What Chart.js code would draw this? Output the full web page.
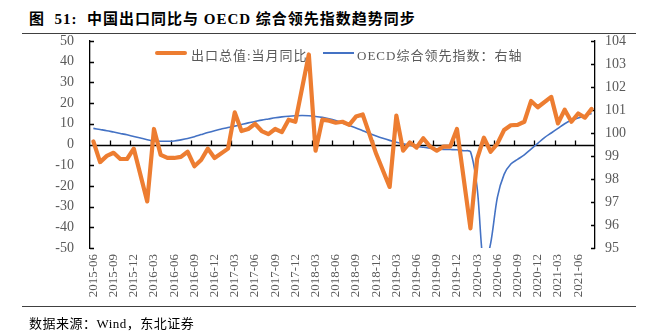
<!DOCTYPE html>
<html>
<head>
<meta charset="utf-8">
<script src="https://cdn.jsdelivr.net/npm/chart.js@4.4.0/dist/chart.umd.min.js"></script>
<style>
  body { margin: 0; width: 659px; height: 333px; background: #fff; position: relative; overflow: hidden; }
  #chart { position: absolute; left: 0; top: 0; }
  .title { position: absolute; left: 29px; top: 7px; font-family: "Liberation Serif", "Noto Sans CJK SC", serif; font-size: 15px; font-weight: bold; color: #000; white-space: nowrap; letter-spacing: 1px; }
  .rule { position: absolute; left: 22px; width: 614px; height: 1px; background: #404040; }
  .source { position: absolute; left: 29px; top: 313px; font-family: "Liberation Serif", "Noto Sans CJK SC", serif; font-size: 13px; color: #000; white-space: nowrap; letter-spacing: 0.5px; }
  .legend { position: absolute; top: 45px; font-family: "Liberation Serif", "Noto Sans CJK SC", serif; font-size: 13px; color: #595959; white-space: nowrap; letter-spacing: 1px; }
  .swatch { position: absolute; }
</style>
</head>
<body>
<div class="title">图&nbsp; 51:&nbsp; 中国出口同比与 OECD 综合领先指数趋势同步</div>
<div class="rule" style="top:33px"></div>
<canvas id="chart" width="659" height="333"></canvas>
<div class="swatch" style="left:155px;top:51px;width:32px;height:4px;background:#ED7D31;border-radius:2px"></div>
<div class="legend" style="left:191px">出口总值:当月同比</div>
<div class="swatch" style="left:323px;top:52px;width:31px;height:2px;background:#4472C4"></div>
<div class="legend" style="left:357px">OECD综合领先指数：右轴</div>
<div class="rule" style="top:306px"></div>
<div class="source">数据来源：Wind，东北证券</div>
<script>
// months 2015-06 .. 2021-08
const months = [
  '2015-06','2015-07','2015-08','2015-09','2015-10','2015-11','2015-12',
  '2016-01','2016-02','2016-03','2016-04','2016-05','2016-06','2016-07','2016-08','2016-09','2016-10','2016-11','2016-12',
  '2017-01','2017-02','2017-03','2017-04','2017-05','2017-06','2017-07','2017-08','2017-09','2017-10','2017-11','2017-12',
  '2018-01','2018-02','2018-03','2018-04','2018-05','2018-06','2018-07','2018-08','2018-09','2018-10','2018-11','2018-12',
  '2019-01','2019-02','2019-03','2019-04','2019-05','2019-06','2019-07','2019-08','2019-09','2019-10','2019-11','2019-12',
  '2020-01','2020-02','2020-03','2020-04','2020-05','2020-06','2020-07','2020-08','2020-09','2020-10','2020-11','2020-12',
  '2021-01','2021-02','2021-03','2021-04','2021-05','2021-06','2021-07','2021-08'
];

// 出口总值:当月同比 (%), January values missing
const exportYoY = [
  1.5, -8.5, -5.5, -4, -7, -7, -2,
  null, -27.5, 7.5, -5, -6.5, -6.5, -6, -3.5, -10.5, -7.5, -2, -6.5,
  null, -2, 15.5, 6.5, 7.5, 10, 6.5, 5, 7.5, 6, 12, 11,
  null, 43.5, -3, 12, 11.5, 10.5, 11, 9.5, 13.5, 14.5, 5, -4.5,
  null, -20.5, 14, -3, 1, -1.5, 3, -1, -3, -1, -1, 7.5,
  null, -40.5, -6.8, 3.3, -3.5, 0.4, 7, 9.3, 9.5, 11, 21, 18,
  null, 23, 10.2, 16.8, 11, 15, 13, 17.2
];

// OECD综合领先指数 (right axis)
const oecdCli = [
  100.2, 100.15, 100.1, 100.04, 99.98, 99.92, 99.85,
  99.78, 99.71, 99.66, 99.64, 99.64, 99.65, 99.7, 99.76, 99.84, 99.93, 100.02, 100.1,
  100.17, 100.24, 100.3, 100.37, 100.44, 100.5, 100.56, 100.61, 100.66, 100.7, 100.73, 100.75,
  100.76, 100.75, 100.72, 100.68, 100.62, 100.54, 100.44, 100.33, 100.22, 100.1, 99.98, 99.87,
  99.77, 99.68, 99.6, 99.53, 99.47, 99.42, 99.38, 99.34, 99.31, 99.29, 99.28, 99.27,
  99.23, 99.19, 97.6, 94.2, 95.2, 97.2, 98.2, 98.65, 98.85, 99.05, 99.3, 99.55,
  99.8, 100.0, 100.2, 100.4, 100.55, 100.65, 100.75, 100.85
];

const leftTicks = { min: -50, max: 50, step: 10 };
const rightTicks = { min: 95, max: 104, step: 1 };
const labelEvery = 3;

// zero line with tick marks + inward axis ticks, like the Excel original
const axisMarks = {
  id: 'axisMarks',
  beforeDatasetsDraw(chart) {
    const { ctx, chartArea, scales } = chart;
    const y = scales.y, y1 = scales.y1;
    ctx.save();
    ctx.strokeStyle = '#000';
    ctx.lineWidth = 1.3;
    const zy = Math.round(y.getPixelForValue(0)) + 0.5;
    ctx.beginPath();
    ctx.moveTo(chartArea.left, zy);
    ctx.lineTo(chartArea.right, zy);
    const step = (chartArea.right - chartArea.left) / months.length;
    for (let i = labelEvery; i < months.length; i += labelEvery) {
      const tx = Math.round(chartArea.left + step * i) + 0.5;
      ctx.moveTo(tx, zy);
      ctx.lineTo(tx, zy - 5);
    }
    y.ticks.forEach(t => {
      const py = Math.round(y.getPixelForValue(t.value)) + 0.5;
      ctx.moveTo(chartArea.left, py);
      ctx.lineTo(chartArea.left + 4, py);
    });
    y1.ticks.forEach(t => {
      const py = Math.round(y1.getPixelForValue(t.value)) + 0.5;
      ctx.moveTo(chartArea.right, py);
      ctx.lineTo(chartArea.right - 4, py);
    });
    ctx.stroke();
    ctx.restore();
  }
};

new Chart(document.getElementById('chart'), {
  type: 'line',
  data: {
    labels: months,
    datasets: [
      {
        label: '出口总值:当月同比',
        data: exportYoY,
        yAxisID: 'y',
        borderColor: '#ED7D31',
        borderWidth: 4.2,
        pointRadius: 0,
        tension: 0,
        spanGaps: true,
        borderJoinStyle: 'round',
        borderCapStyle: 'round'
      },
      {
        label: 'OECD综合领先指数：右轴',
        data: oecdCli,
        yAxisID: 'y1',
        borderColor: '#4472C4',
        borderWidth: 1.6,
        pointRadius: 0,
        tension: 0.3
      }
    ]
  },
  options: {
    responsive: false,
    animation: false,
    events: [],
    layout: { padding: { left: 20, right: 20, top: 41, bottom: 28 } },
    plugins: { legend: { display: false }, tooltip: { enabled: false } },
    scales: {
      x: {
        offset: true,
        grid: { display: false, drawTicks: false },
        border: { display: false },
        ticks: {
          autoSkip: false,
          maxRotation: 90,
          minRotation: 90,
          padding: 6,
          color: '#595959',
          font: { family: 'Liberation Serif', size: 13 },
          callback: (v, i) => (i % labelEvery === 0 ? months[i] : '')
        },
        afterFit: s => { s.height = 57; }
      },
      y: {
        position: 'left',
        min: leftTicks.min,
        max: leftTicks.max,
        grid: { display: false, drawTicks: false },
        border: { display: true, color: '#000', width: 1.3 },
        ticks: {
          stepSize: leftTicks.step,
          padding: 16,
          color: '#595959',
          font: { family: 'Liberation Serif', size: 14 }
        },
        afterFit: s => { s.width = 70; }
      },
      y1: {
        position: 'right',
        min: rightTicks.min,
        max: rightTicks.max,
        grid: { display: false, drawTicks: false },
        border: { display: true, color: '#000', width: 1.3 },
        ticks: {
          stepSize: rightTicks.step,
          padding: 10,
          color: '#595959',
          font: { family: 'Liberation Serif', size: 14 }
        },
        afterFit: s => { s.width = 44; }
      }
    }
  },
  plugins: [axisMarks]
});
</script>
</body>
</html>
